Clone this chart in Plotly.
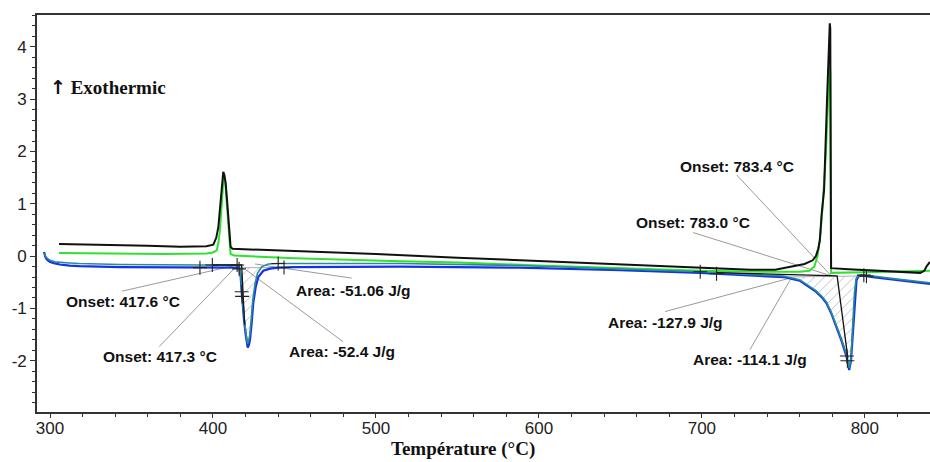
import numpy as np
import plotly.graph_objects as go

# ---- DSC traces: temperature (°C) vs heat flow (W/g) ----
black_x = [305.5, 330, 360, 380, 396, 400.2, 402, 403.3, 404.7, 405.7,
           406.3, 407.0, 407.8, 408.6, 409.4, 410.2, 410.8, 412, 430, 450,
           500, 550, 600, 650, 700, 730, 745, 756, 763, 768,
           770, 771.5, 772.4, 773.5, 775, 776.8, 778.0, 778.5, 778.8, 779.0,
           779.1, 779.3, 790, 810, 825, 834, 836.5, 838, 840]
black_y = [0.23, 0.22, 0.20, 0.18, 0.19, 0.22, 0.35, 0.56, 1.07, 1.52,
           1.61, 1.55, 1.39, 1.08, 0.75, 0.40, 0.18, 0.14, 0.12, 0.10,
           0.04, -0.03, -0.09, -0.16, -0.22, -0.26, -0.26, -0.20, -0.15, -0.08,
           0.0, 0.15, 0.30, 0.80, 1.26, 2.98, 4.05, 4.45, 4.35, 2.5,
           0.5, -0.23, -0.25, -0.28, -0.30, -0.32, -0.28, -0.19, -0.11]

green_x = [305.5, 330, 370, 396, 400, 402.3, 403.3, 404.3, 405.0, 405.7,
           406.5, 407.4, 408.4, 409.1, 409.8, 410.3, 410.8, 413, 420.7, 450,
           515, 551, 600, 650, 700, 740, 760, 766, 769, 771,
           772.5, 774, 776, 777.5, 778.3, 778.8, 779.0, 779.3, 800, 820,
           838, 840]
green_y = [0.06, 0.05, 0.04, 0.05, 0.07, 0.11, 0.25, 0.50, 0.85, 1.26,
           1.52, 1.45, 1.07, 0.75, 0.43, 0.18, 0.04, 0.01, 0.0, -0.04,
           -0.10, -0.12, -0.18, -0.23, -0.28, -0.30, -0.30, -0.28, -0.20, 0.0,
           0.35, 0.90, 1.90, 3.00, 3.80, 3.50, 1.0, -0.32, -0.31, -0.30,
           -0.28, -0.28]

blue_x = [296.3, 296.6, 297.2, 298.2, 300, 303, 306, 312, 318, 343,
          380, 410, 415, 416.3, 417.0, 417.6, 418.2, 419.0, 420.0, 420.8,
          421.3, 422.0, 422.7, 423.7, 424.7, 426.2, 427.8, 430.9, 435, 440,
          450, 515, 588, 650, 699, 723, 750, 760, 764, 770,
          774, 776.5, 779.5, 782.6, 785.5, 788.8, 790.4, 791.5, 792.8, 793.8,
          794.9, 796, 798, 805, 820, 838, 840]
blue_y = [0.08, 0.04, -0.02, -0.07, -0.11, -0.14, -0.16, -0.18, -0.19, -0.21,
          -0.22, -0.22, -0.22, -0.25, -0.40, -0.68, -0.95, -1.20, -1.48, -1.68,
          -1.75, -1.70, -1.60, -1.29, -0.90, -0.59, -0.40, -0.28, -0.24, -0.22,
          -0.21, -0.20, -0.22, -0.27, -0.32, -0.36, -0.40, -0.47, -0.55, -0.68,
          -0.80, -0.90, -1.10, -1.35, -1.60, -1.92, -2.18, -2.00, -1.41, -0.78,
          -0.46, -0.39, -0.37, -0.40, -0.45, -0.52, -0.53]

teal_x = [296.6, 297.2, 298.2, 300, 303, 306, 312, 318, 343, 394,
          410, 415, 416.3, 417.0, 417.6, 418.2, 419.0, 420.0, 420.8, 421.2,
          421.9, 422.6, 423.5, 424.4, 425.8, 427.3, 430, 434, 440, 450,
          515, 588, 650, 699, 723, 750, 760, 764, 770, 774,
          776.5, 779.5, 782.6, 785.5, 788.8, 790.5, 791.5, 792.6, 793.6, 794.6,
          796, 798, 805, 820, 838, 840]
teal_y = [0.05, 0.0, -0.04, -0.08, -0.11, -0.12, -0.13, -0.14, -0.16, -0.17,
          -0.17, -0.17, -0.20, -0.36, -0.64, -0.90, -1.15, -1.42, -1.62, -1.68,
          -1.62, -1.50, -1.20, -0.85, -0.52, -0.33, -0.20, -0.15, -0.14, -0.14,
          -0.14, -0.18, -0.24, -0.30, -0.34, -0.38, -0.45, -0.53, -0.66, -0.78,
          -0.88, -1.08, -1.32, -1.57, -1.88, -2.14, -1.95, -1.35, -0.72, -0.43,
          -0.37, -0.36, -0.38, -0.44, -0.50, -0.51]

# ---- peak analysis results ----
onset_c = [417.6, 417.3, 783.4, 783.0]
area_jg = [-51.06, -52.4, -127.9, -114.1]

# integration limits / analysis cursors (°C) on each curve
blue_cursors = [392.0, 416.0, 417.6, 443.6, 709.0, 789.3, 801.0]
teal_cursors = [399.6, 414.8, 417.9, 440.0, 699.0, 789.0, 799.4]

# hatched peak areas: integration range on the blue curve
peak_ranges = [(415.0, 440.0), (750.0, 797.0)]

# axis ticks
x_ticks = [300, 400, 500, 600, 700, 800]
y_ticks = [-2, -1, 0, 1, 2, 3, 4]
y_ticktext = ["-2", "-1", "0", "1", "2", "3", "4"]

C_BLACK = "#111111"
C_GREEN = "#2fe22f"
C_BLUE = "#1432e6"
C_TEAL = "#2a8b98"
C_GUIDE = "#9a9a9a"


def interp(xs, ys, x):
    return float(np.interp(x, xs, ys))


def segment(xs, ys, lo, hi):
    xs = np.asarray(xs, float)
    ys = np.asarray(ys, float)
    m = (xs > lo) & (xs < hi)
    sx = np.concatenate([[lo], xs[m], [hi]])
    sy = np.concatenate([[interp(xs, ys, lo)], ys[m], [interp(xs, ys, hi)]])
    return sx, sy


fig = go.Figure()

# hatched peak areas between a straight baseline and the blue curve
for lo, hi in peak_ranges:
    bx = [lo, hi]
    by = [interp(blue_x, blue_y, lo), interp(blue_x, blue_y, hi)]
    fig.add_trace(go.Scatter(x=bx, y=by, mode="lines",
                             line=dict(color=C_GUIDE, width=0.8),
                             hoverinfo="skip", showlegend=False))
    sx, sy = segment(blue_x, blue_y, lo, hi)
    fig.add_trace(go.Scatter(
        x=sx, y=sy, mode="lines", line=dict(width=0),
        fill="tonexty", fillcolor="rgba(0,0,0,0)",
        fillpattern=dict(shape="/", fgcolor="#6e6e6e", bgcolor="rgba(0,0,0,0)",
                         size=7, solidity=0.12, fillmode="overlay"),
        hoverinfo="skip", showlegend=False))

# main curves
fig.add_trace(go.Scatter(x=green_x, y=green_y, mode="lines",
                         line=dict(color=C_GREEN, width=2), showlegend=False))
fig.add_trace(go.Scatter(x=black_x, y=black_y, mode="lines",
                         line=dict(color=C_BLACK, width=2), showlegend=False))
fig.add_trace(go.Scatter(x=blue_x, y=blue_y, mode="lines",
                         line=dict(color=C_BLUE, width=2.2), showlegend=False))
fig.add_trace(go.Scatter(x=teal_x, y=teal_y, mode="lines",
                         line=dict(color=C_TEAL, width=1.6), showlegend=False))

# onset construction: extrapolated baseline + leading-edge tangent
b1 = interp(teal_x, teal_y, 400.0)
fig.add_trace(go.Scatter(
    x=[400.0, onset_c[0], onset_c[0] + 1.8],
    y=[b1, b1, interp(blue_x, blue_y, onset_c[0] + 1.8)],
    mode="lines", line=dict(color=C_BLACK, width=1.3),
    hoverinfo="skip", showlegend=False))
b2a = interp(blue_x, blue_y, 709.0) + 0.02
b2b = b2a - 0.06
fig.add_trace(go.Scatter(
    x=[709.0, onset_c[3], 789.6],
    y=[b2a, b2b, interp(blue_x, blue_y, 789.6) + 0.1],
    mode="lines", line=dict(color=C_BLACK, width=1.3),
    hoverinfo="skip", showlegend=False))

# analysis cursors
for xs, ys, cur in [(blue_x, blue_y, blue_cursors), (teal_x, teal_y, teal_cursors)]:
    fig.add_trace(go.Scatter(
        x=cur, y=[interp(xs, ys, c) for c in cur], mode="markers",
        marker=dict(symbol="cross-thin", size=10,
                    line=dict(color="#222222", width=1.1)),
        hoverinfo="skip", showlegend=False))

# callout labels: (text, label position, line start, line end)
base_lo = interp(teal_x, teal_y, 415.0)
base_hi = b2b
callouts = [
    (f"Onset: {onset_c[0]:.1f} °C", (344.5, -0.86), (344.2, -0.67), (onset_c[0] - 3.0, base_lo)),
    (f"Onset: {onset_c[1]:.1f} °C", (367.2, -1.92), (367.0, -1.73), (onset_c[1] - 2.8, base_lo - 0.02)),
    (f"Area: {area_jg[0]:g} J/g", (486.1, -0.65), (485.1, -0.42), (425.8, -0.15)),
    (f"Area: {area_jg[1]:g} J/g", (479.2, -1.83), (479.8, -1.635), (420.6, -0.27)),
    (f"Onset: {onset_c[2]:.1f} °C", (721.6, 1.71), (721.4, 1.55), (onset_c[2] - 4.0, base_hi)),
    (f"Onset: {onset_c[3]:.1f} °C", (694.6, 0.64), (694.7, 0.45), (onset_c[3] - 3.6, base_hi)),
    (f"Area: {area_jg[2]:g} J/g", (677.4, -1.27), (677.4, -1.06), (754.1, -0.42)),
    (f"Area: {area_jg[3]:g} J/g", (729.5, -1.985), (729.5, -1.79), (754.1, -0.46)),
]
for text, (tx, ty), (sx, sy), (ex, ey) in callouts:
    fig.add_shape(type="line", xref="x", yref="y", x0=sx, y0=sy, x1=ex, y1=ey,
                  line=dict(color=C_GUIDE, width=1), layer="below")
    fig.add_annotation(x=tx, y=ty, xref="x", yref="y", text=text, showarrow=False,
                       font=dict(family="Liberation Sans, Arial", size=15.5,
                                 color="#111111", weight="bold"))

fig.add_annotation(xref="paper", yref="paper", x=0.0125, y=0.819,
                   xanchor="left", yanchor="middle", showarrow=False,
                   text="<span style='font-family:DejaVu Sans;color:#111111'>↑</span> Exothermic",
                   font=dict(family="Liberation Serif, Times New Roman", size=19,
                             color="#111111", weight="bold"))

# x-axis title placed below the tick labels
fig.add_annotation(xref="paper", yref="paper", x=0.477, y=-0.1235,
                   xanchor="center", yanchor="bottom", showarrow=False,
                   borderpad=0, text="Température (°C)",
                   font=dict(family="Liberation Serif, Times New Roman", size=19,
                             color="#111111", weight="bold"))

fig.update_layout(
    width=930, height=462,
    margin=dict(l=37, r=0, t=15, b=50),
    paper_bgcolor="white", plot_bgcolor="white",
    showlegend=False,
    xaxis=dict(
        range=[292, 840], tickmode="array", tickvals=x_ticks,
        ticks="outside", ticklen=4, tickwidth=1, tickcolor="#333333",
        ticklabelstandoff=-4,
        minor=dict(dtick=20, ticks="outside", ticklen=3, tickcolor="#333333"),
        showline=True, linecolor="#333333", linewidth=1.6, mirror=True,
        showgrid=False, zeroline=False,
        tickfont=dict(family="Liberation Sans, Arial", size=17, color="#222222"),
    ),
    yaxis=dict(
        range=[-2.98, 4.61], tickmode="array", tickvals=y_ticks, ticktext=y_ticktext,
        ticks="outside", ticklen=5, tickwidth=1, tickcolor="#333333",
        minor=dict(dtick=0.2, ticks="outside", ticklen=3, tickcolor="#333333"),
        showline=True, linecolor="#333333", linewidth=1.6,
        showgrid=False, zeroline=False,
        tickfont=dict(family="Liberation Sans, Arial", size=17, color="#222222"),
    ),
)

fig.write_html("out.html")
